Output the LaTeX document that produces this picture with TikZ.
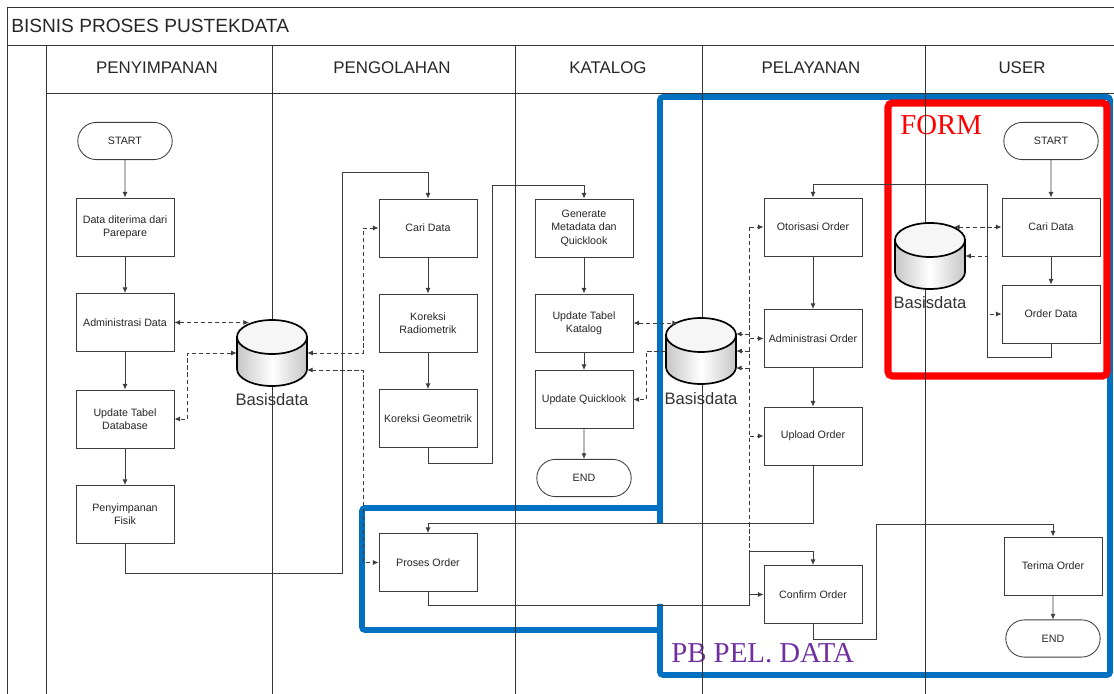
\documentclass[tikz,border=0pt]{standalone}
\usepackage{fontspec}
\setmainfont{Liberation Sans}
\newfontfamily\markfont{Liberation Serif}
\usetikzlibrary{arrows.meta,shapes.misc}

\definecolor{linegray}{RGB}{60,60,60}
\definecolor{markblue}{RGB}{0,112,192}
\definecolor{markred}{RGB}{255,0,0}
\definecolor{markpurple}{RGB}{112,48,160}

\tikzset{
  proc/.style={draw=linegray, line width=0.6pt, fill=white, text=black!85,
    minimum width=2.45cm, minimum height=1.45cm, align=center, inner sep=1pt,
    font=\fontsize{7.6}{9.5}\selectfont},
  term/.style={proc, rounded rectangle, minimum width=2.43cm, minimum height=0.93cm},
  flowline/.style={draw=linegray, line width=0.6pt},
  dashline/.style={flowline, dash pattern=on 3pt off 2pt},
  lane/.style={draw=black!80, line width=0.7pt},
  lanetitle/.style={font=\fontsize{12}{14}\selectfont, anchor=base, text=black!85},
  dbbox/.style={minimum width=1.75cm, minimum height=1.68cm, inner sep=0pt},
  dblabel/.style={font=\fontsize{11.8}{14}\selectfont, text=black!80},
  dbshape/.style={draw=black, line width=1.2pt}
}

% silinder basis data: nama, posisi
\newcommand{\basisdata}[2]{%
  \node[dbbox] (#1) at (#2) {};
  \begin{scope}[shift={(#1.center)}]
    \draw[dbshape, left color=gray!45, right color=gray!45, middle color=white]
      (-35,-16) -- (-35,16) arc (180:0:35 and 17) -- (35,-16) -- cycle;
    \draw[dbshape, fill=gray!7] (0,-16) ellipse (35 and 17);
    \coordinate (#1-in) at (-23,0);
    \coordinate (#1-out) at (24,0);
    \coordinate (#1-ne) at (35,-17);
    \coordinate (#1-se) at (35,17);
  \end{scope}
}

\begin{document}
\begin{tikzpicture}[x=0.025cm, y=-0.025cm, >={Latex[length=4pt,width=3.6pt]}]
  \useasboundingbox (0,0) rectangle (1114,694);

  % penanda area
  \draw[markblue, line width=4pt, rounded corners=2pt] (660,523) -- (660,97) -- (1110,97) -- (1110,675) -- (660,675) -- (660,604);
  \draw[markblue, line width=4pt, rounded corners=2pt] (660,508) -- (362,508) -- (362,630) -- (660,630);
  \draw[markred, line width=5pt, rounded corners=3pt] (888,103) rectangle (1107,376);
  \node[anchor=base west, inner sep=0, text=markred, font=\markfont\fontsize{20.5}{24}\selectfont] (formlabel) at (900,135) {FORM};
  \node[anchor=base west, inner sep=0, text=markpurple, font=\markfont\fontsize{20.5}{24}\selectfont] (pblabel) at (671,663) {PB PEL. DATA};

  % tabel swimlane
  \draw[lane] (7,694) -- (7,7) -- (1114,7);
  \draw[lane] (7,45) -- (1114,45);
  \draw[lane] (46,93) -- (1114,93);
  \foreach \x in {46,272,515,702,925}
    \draw[lane] (\x,45) -- (\x,694);
  \node[anchor=base west, inner sep=0, font=\fontsize{13.6}{16}\selectfont, text=black!85] (judul) at (11,33) {BISNIS PROSES PUSTEKDATA};
  \foreach \x/\nama in {157/PENYIMPANAN, 392/PENGOLAHAN, 608/KATALOG, 811/PELAYANAN, 1022/USER}
    \node[lanetitle] (lane-\nama) at (\x,74) {\nama};

  % penyimpanan
  \node[term] (start1) at (125,141) {START};
  \node[proc] (terima) at (125,227) {Data diterima dari\\Parepare};
  \node[proc] (admdata) at (125,322.5) {Administrasi Data};
  \node[proc] (updtabel) at (125,419) {Update Tabel\\Database};
  \node[proc] (fisik) at (125,514.5) {Penyimpanan\\Fisik};

  % pengolahan
  \node[proc] (caridata) at (428,228) {Cari Data};
  \node[proc] (radiometrik) at (428,323) {Koreksi\\Radiometrik};
  \node[proc] (geometrik) at (428,418.5) {Koreksi Geometrik};
  \node[proc] (proses) at (428,562.5) {Proses Order};

  % katalog
  \node[proc] (generate) at (584,228) {Generate\\Metadata dan\\Quicklook};
  \node[proc] (updkatalog) at (584,323) {Update Tabel\\Katalog};
  \node[proc] (updquick) at (584,399.5) {Update Quicklook};
  \node[term] (end1) at (584,478) {END};

  % pelayanan
  \node[proc] (otorisasi) at (813,227) {Otorisasi Order};
  \node[proc] (admorder) at (813,338.5) {Administrasi Order};
  \node[proc] (upload) at (813,436) {Upload Order};
  \node[proc] (confirm) at (813,594.5) {Confirm Order};

  % user
  \node[term] (start2) at (1051,141) {START};
  \node[proc] (cariuser) at (1051,227) {Cari Data};
  \node[proc] (orderdata) at (1051,314) {Order Data};
  \node[proc] (terimaorder) at (1053,566) {Terima Order};
  \node[term] (end2) at (1053,638.5) {END};

  \basisdata{db1}{272,353}
  \basisdata{db2}{701,351}
  \basisdata{db3}{930,256}
  \node[dblabel] (db1-label) at (272,400) {Basisdata};
  \node[dblabel] (db2-label) at (701,399) {Basisdata};
  \node[dblabel] (db3-label) at (930,303) {Basisdata};

  % alur utama
  \draw[flowline,->] (start1) -- (terima);
  \draw[flowline,->] (terima) -- (admdata);
  \draw[flowline,->] (admdata) -- (updtabel);
  \draw[flowline,->] (updtabel) -- (fisik);
  \draw[flowline,->] (fisik.south) -- ++(0,29) -- ++(217,0) -- ++(0,-401) -| (caridata.north);
  \draw[flowline,->] (caridata) -- (radiometrik);
  \draw[flowline,->] (radiometrik) -- (geometrik);
  \draw[flowline,->] (geometrik.south) -- ++(0,15) -- ++(64,0) -- ++(0,-278) -| (generate.north);
  \draw[flowline,->] (generate) -- (updkatalog);
  \draw[flowline,->] (updkatalog) -- (updquick);
  \draw[flowline,->] (updquick) -- (end1);

  \draw[flowline,->] (start2) -- (cariuser);
  \draw[flowline,->] (cariuser) -- (orderdata);
  \draw[flowline,->] (orderdata.south) -- ++(0,14) -- ++(-64,0) -- ++(0,-173) -| (otorisasi.north);
  \draw[flowline,->] (otorisasi) -- (admorder);
  \draw[flowline,->] (admorder) -- (upload);
  \draw[flowline,->] (upload.south) -- ++(0,58) -| (proses.north);
  \draw[flowline,->] (proses.south) -- ++(0,13) -- ++(321,0) -- ++(0,-54) -| (confirm.north);
  \coordinate (bustop) at ([xshift=-0.35cm]otorisasi.west);
  \draw[flowline,->] (bustop |- confirm.west) -- (confirm.west);
  \draw[flowline,->] (confirm.south) -- ++(0,15) -- ++(63,0) -- ++(0,-115) -| (terimaorder.north);
  \draw[flowline,->] (terimaorder) -- (end2);

  % akses basis data
  \draw[dashline,<->] (admdata.east) -- (admdata.east -| db1-in);
  \draw[dashline,<->] (db1.west) -- ++(-49,0) |- (updtabel.east);
  \draw[dashline,<->] (db1.east) -- ++(56,0) |- (caridata.west);
  \draw[dashline,<->] (db1-se) -- ++(56,0) |- (proses.west);

  \draw[dashline,<->] (updkatalog.east) -- (updkatalog.east -| db2-in);
  \draw[dashline,->] (db2.west) -- ++(-19,0) |- (updquick.east);
  \draw[dashline] (bustop) -- (bustop |- confirm.north);
  \draw[dashline,->] (bustop) -- (otorisasi.west);
  \draw[dashline,->] (bustop |- admorder.west) -- (admorder.west);
  \draw[dashline,->] (bustop |- upload.west) -- (upload.west);
  \draw[dashline,->] (bustop |- db2-ne) -- (db2-ne);
  \draw[dashline,->] (bustop |- db2.east) -- (db2.east);
  \draw[dashline,->] (bustop |- db2-se) -- (db2-se);

  \draw[dashline,<->] (db3-out |- cariuser.west) -- (cariuser.west);
  \draw[dashline,<->] (db3.east) -- ++(22,0) |- (orderdata.west);
\end{tikzpicture}
\end{document}
